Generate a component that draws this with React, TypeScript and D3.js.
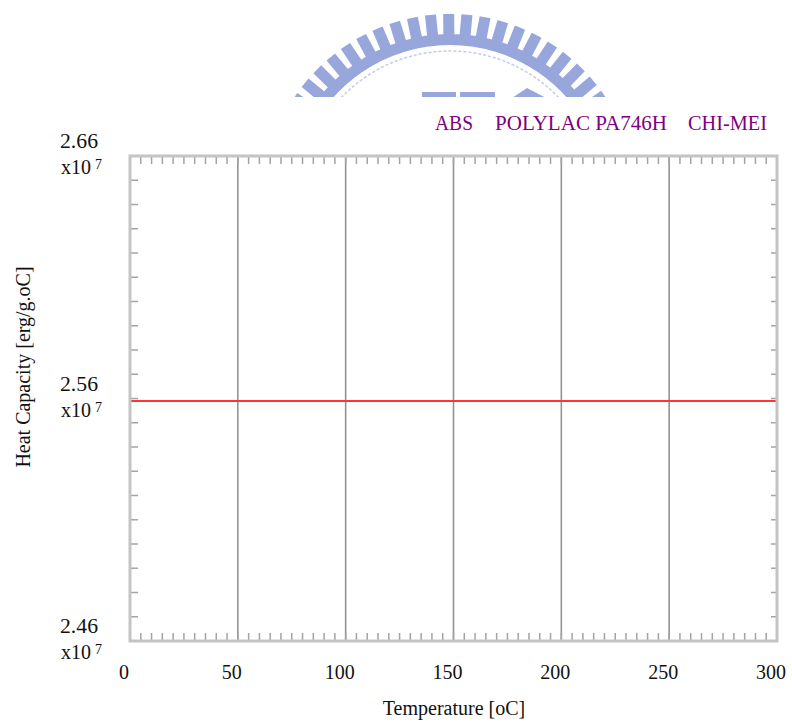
import React from "react";
import * as d3 from "d3";

// Series: temperature [oC] vs heat capacity [x10^7 erg/g.oC]
const temperatures = [0, 300];
const heatCapacity = [2.559, 2.559];

const xTickValues = [0, 50, 100, 150, 200, 250, 300];
const yTickValues = [2.46, 2.56, 2.66];
const titleParts = ["ABS", "POLYLAC PA746H", "CHI-MEI"];

const W = 792;
const H = 725;
const FONT = "'Liberation Serif', 'Times New Roman', serif";

export default function App() {
  const x = d3.scaleLinear().domain([0, 300]).range([130, 777]);
  const y = d3.scaleLinear().domain([2.46, 2.66]).range([641, 156]);

  const xMinor = d3.range(0, 300.0001, 5);
  const yMinor = d3.range(0, 21).map((i) => 2.46 + i * 0.01);

  const line = d3
    .line<number>()
    .x((_, i) => x(temperatures[i]))
    .y((d) => y(d));

  // Emblem in the page header
  const cx = 450;
  const cy = 201;
  const teethAngles = d3.range(-62, 62.1, 5.6);
  const arcBand = d3.arc()({
    innerRadius: 156,
    outerRadius: 167,
    startAngle: -1.2,
    endAngle: 1.2,
  }) as string;

  const [x0, x1] = x.range();
  const [yb, yt] = y.range();

  return (
    <svg
      width={W}
      height={H}
      style={{ position: "absolute", left: 0, top: 0, background: "#fff" }}
      fontFamily={FONT}
    >
      <defs>
        <clipPath id="hdr">
          <rect x={0} y={0} width={W} height={97} />
        </clipPath>
        <filter id="soft">
          <feGaussianBlur stdDeviation={0.6} />
        </filter>
      </defs>

      <g clipPath="url(#hdr)">
        <g fill="#97a6db" filter="url(#soft)">
          <path d={arcBand} transform={`translate(${cx},${cy})`} />
          {teethAngles.map((a) => (
            <rect
              key={a}
              x={-5.5}
              y={-187}
              width={11}
              height={24}
              transform={`translate(${cx},${cy}) rotate(${a})`}
            />
          ))}
          <circle
            cx={cx}
            cy={cy}
            r={150}
            fill="none"
            stroke="#c3cbec"
            strokeWidth={1.5}
            strokeDasharray="3 2"
          />
          <rect x={422} y={92} width={34} height={6} />
          <rect x={460} y={92} width={35} height={6} />
          <path d="M527,88 L546,98 L512,98 Z" />
        </g>
      </g>

      {/* Title */}
      <g fill="#800080" fontSize={20}>
        <text x={435} y={130} textLength={38} lengthAdjust="spacingAndGlyphs">
          {titleParts[0]}
        </text>
        <text x={495} y={130} textLength={172} lengthAdjust="spacingAndGlyphs">
          {titleParts[1]}
        </text>
        <text x={688} y={130} textLength={79} lengthAdjust="spacingAndGlyphs">
          {titleParts[2]}
        </text>
      </g>

      {/* Vertical grid lines at major temperatures */}
      {xTickValues.slice(1, -1).map((v) => (
        <line
          key={`g${v}`}
          x1={x(v)}
          x2={x(v)}
          y1={yt}
          y2={yb}
          stroke="#939393"
          strokeWidth={1.6}
        />
      ))}

      {/* Minor ticks */}
      <g stroke="#a3a3a3" strokeWidth={1.5}>
        {xMinor.slice(1, -1).map((v) => (
          <g key={`xm${v}`}>
            <line x1={x(v)} x2={x(v)} y1={yt} y2={yt + 8} />
            <line x1={x(v)} x2={x(v)} y1={yb} y2={yb - 8} />
          </g>
        ))}
        {yMinor.slice(1, -1).map((v, i) => (
          <g key={`ym${i}`}>
            <line x1={x0} x2={x0 + 8} y1={y(v)} y2={y(v)} />
            <line x1={x1} x2={x1 - 6} y1={y(v)} y2={y(v)} />
          </g>
        ))}
      </g>

      {/* Heat capacity curve */}
      <path d={line(heatCapacity) as string} fill="none" stroke="#ff3535" strokeWidth={2} />

      {/* Frame */}
      <rect
        x={x0}
        y={yt}
        width={x1 - x0}
        height={yb - yt}
        fill="none"
        stroke="#c4c4c4"
        strokeWidth={3}
      />

      {/* X tick labels */}
      <g fontSize={20} fill="#111" textAnchor="middle">
        {xTickValues.map((v) => (
          <text key={`xl${v}`} x={x(v) - 6} y={679}>
            {v}
          </text>
        ))}
      </g>

      {/* Y tick labels with exponent */}
      <g fontSize={20} fill="#111">
        {yTickValues.map((v) => (
          <g key={`yl${v}`}>
            <text x={60} y={y(v) - 8} textLength={38} lengthAdjust="spacingAndGlyphs">
              {v.toFixed(2)}
            </text>
            <text x={61} y={y(v) + 18}>
              x10
              <tspan fontSize={14} dx={4} dy={-5}>
                7
              </tspan>
            </text>
          </g>
        ))}
      </g>

      {/* Axis titles */}
      <text x={454} y={715} fontSize={20} textAnchor="middle" fill="#111">
        Temperature [oC]
      </text>
      <text
        transform={`translate(30,367) rotate(-90)`}
        fontSize={20}
        textAnchor="middle"
        fill="#111"
      >
        Heat Capacity [erg/g.oC]
      </text>
    </svg>
  );
}
